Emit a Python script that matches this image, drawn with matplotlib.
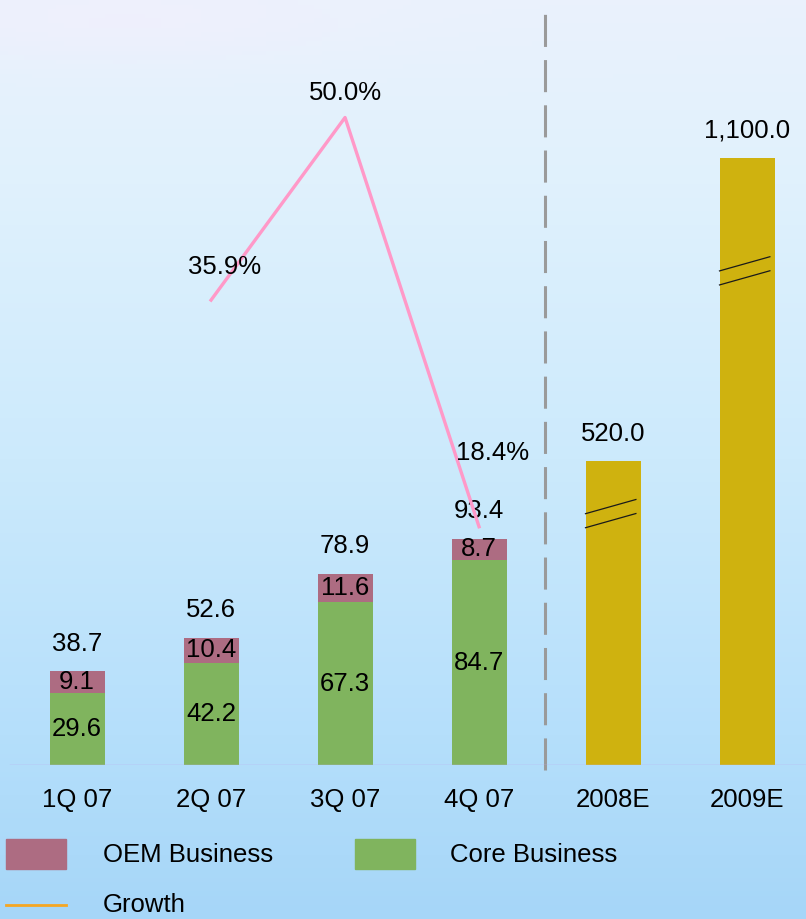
import matplotlib
matplotlib.use("Agg")
import matplotlib.pyplot as plt
import numpy as np
from matplotlib.colors import to_rgb
from matplotlib.patches import Rectangle
from matplotlib.lines import Line2D

# ---------------------------------------------------------------------------
# Data
# ---------------------------------------------------------------------------
quarters = ["1Q 07", "2Q 07", "3Q 07", "4Q 07"]
core_business = [29.6, 42.2, 67.3, 84.7]
oem_business = [9.1, 10.4, 11.6, 8.7]
quarter_totals = [38.7, 52.6, 78.9, 93.4]

growth_quarters = ["2Q 07", "3Q 07", "4Q 07"]
growth_pct = [35.9, 50.0, 18.4]

forecast_years = ["2008E", "2009E"]
forecast_values = [520.0, 1100.0]
# forecast bars are drawn broken (axis break), this is the height shown
forecast_shown = [125.6, 251.0]

categories = quarters + forecast_years

# ---------------------------------------------------------------------------
# Style
# ---------------------------------------------------------------------------
OEM_COLOR = "#AD6C82"
CORE_COLOR = "#80B45E"
GOLD_COLOR = "#CFB20F"
GROWTH_COLOR = "#FF99C8"
LEGEND_LINE = "#F5A623"
FONT = "Liberation Sans"
FS = 18.5

plt.rcParams["font.family"] = [FONT, "DejaVu Sans"]

W, H = 806, 919
fig = plt.figure(figsize=(W / 100, H / 100), dpi=100)

# background gradient
bg = fig.add_axes([0, 0, 1, 1], zorder=-10)
bg.axis("off")
stops = [(0.0, "#EAF2FD"), (0.2, "#E0F1FD"), (0.5, "#CCEAFC"),
         (0.8, "#B5DFFB"), (1.0, "#A6D6F8")]
ny, nx = 200, 100
t = np.linspace(0, 1, ny)
cols = np.array([to_rgb(c) for _, c in stops])
pos = np.array([p for p, _ in stops])
grad = np.stack([np.interp(t, pos, cols[:, k]) for k in range(3)], axis=-1)
img = np.repeat(grad[:, None, :], nx, axis=1)
# soft lilac glow in the top-left corner
yy, xx = np.mgrid[0:ny, 0:nx]
glow = np.exp(-(((xx - 15) / 30.0) ** 2 + ((yy - 4) / 9.0) ** 2))
img = img * (1 - 0.5 * glow[..., None]) + np.array(to_rgb("#F4EEFB")) * 0.5 * glow[..., None]
bg.imshow(img, aspect="auto", extent=[0, 1, 0, 1], origin="upper")
bg.set_xlim(0, 1)
bg.set_ylim(0, 1)

# main axes: baseline at 765 px from top
base_px = 765
ax = fig.add_axes([0, (H - base_px) / H, 1, base_px / H])
ax.patch.set_alpha(0)
px_per_unit = 2.42
ax.set_ylim(0, base_px / px_per_unit)
ax.set_xlim(-0.575, 5.44)
for s in ax.spines.values():
    s.set_visible(False)
ax.set_yticks([])

x = np.arange(len(categories))
xq = x[:len(quarters)]
xf = x[len(quarters):]
bw = 0.41

ax.bar(xq, core_business, width=bw, color=CORE_COLOR, zorder=2)
ax.bar(xq, oem_business, width=bw, bottom=core_business, color=OEM_COLOR, zorder=2)
ax.bar(xf, forecast_shown, width=bw, color=GOLD_COLOR, zorder=2)

# segment labels
for xi, c, o in zip(xq, core_business, oem_business):
    ax.text(xi, c / 2, f"{c:.1f}", ha="center", va="center", fontsize=FS, zorder=4)
    ax.text(xi, c + o / 2, f"{o:.1f}", ha="center", va="center", fontsize=FS, zorder=4)

# total labels
for xi, top, v in zip(xq, np.add(core_business, oem_business), quarter_totals):
    ax.annotate(f"{v:.1f}", (xi, top), xytext=(0, 20), textcoords="offset points",
                ha="center", va="center", fontsize=FS, zorder=4)
for xi, top, v in zip(xf, forecast_shown, forecast_values):
    ax.annotate(f"{v:,.1f}", (xi, top), xytext=(0, 19.5), textcoords="offset points",
                ha="center", va="center", fontsize=FS, zorder=4)

# break marks on the forecast bars
for xi, top in zip(xf, forecast_shown):
    yb = top * 0.80
    for dy in (0, 5.8):
        ax.plot([xi - 0.21, xi + 0.175], [yb + dy - 2.5, yb + dy + 3.5],
                color="#1A1A1A", lw=0.9, zorder=3, solid_capstyle="butt")

# baseline
ax.axhline(0, xmin=0.012, xmax=1, color="#C0A8EC", lw=1.0, zorder=3)

# divider between actuals and forecasts
ax.plot([3.49, 3.49], [-2, 311], color="#9A9A9A", lw=2.2, ls=(0, (10.5, 4.3)),
        zorder=1, clip_on=False)

# x tick labels
ax.set_xticks(x)
ax.set_xticklabels(categories, fontsize=FS)
ax.tick_params(axis="x", length=0, pad=16.5)

# growth line on secondary axis
ax2 = ax.twinx()
ax2.set_ylim(0, base_px / 12.95)
ax2.set_axis_off()
xg = [categories.index(q) for q in growth_quarters]
ax2.plot(xg, growth_pct, color=GROWTH_COLOR, lw=2.4, zorder=5)
growth_offsets = [(10, 24), (0, 18), (10, 53)]
for xi, g, off in zip(xg, growth_pct, growth_offsets):
    ax2.annotate(f"{g:.1f}%", (xi, g), xytext=off, textcoords="offset points",
                 ha="center", va="center", fontsize=FS, zorder=6)

# legend, drawn in figure pixels
def fy(py):
    return (H - py) / H

def fx(px):
    return px / W

fig.add_artist(Rectangle((fx(6), fy(869)), fx(60), 30 / H, color=OEM_COLOR))
fig.add_artist(Rectangle((fx(355), fy(869)), fx(60), 30 / H, color=CORE_COLOR))
fig.add_artist(Line2D([fx(6), fx(66)], [fy(905), fy(905)], color=LEGEND_LINE, lw=2))
fig.text(fx(103), fy(855), "OEM Business", fontsize=FS, va="center", ha="left")
fig.text(fx(450), fy(855), "Core Business", fontsize=FS, va="center", ha="left")
fig.text(fx(103), fy(905), "Growth", fontsize=FS, va="center", ha="left")

fig.savefig("out.png", dpi=100)
